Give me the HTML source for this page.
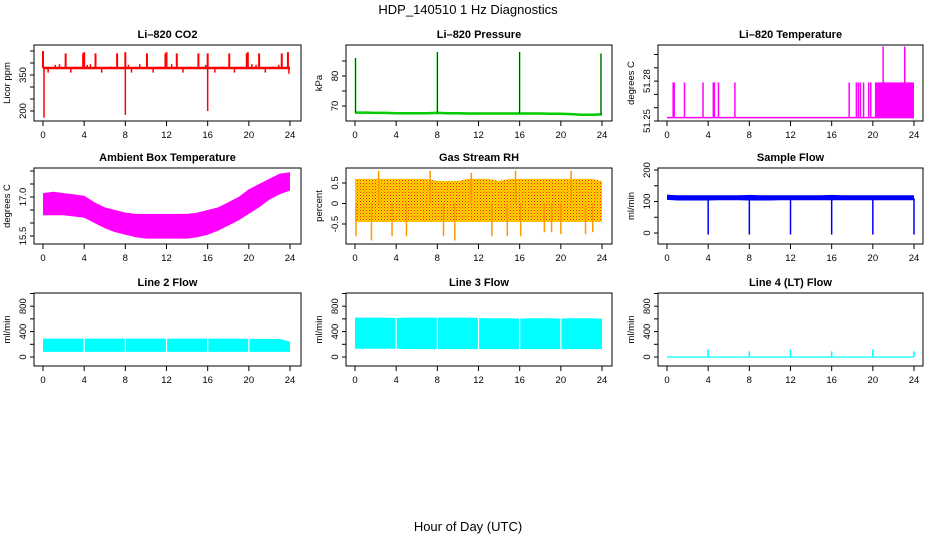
<!DOCTYPE html>
<html><head><meta charset="utf-8"><style>
body{margin:0;background:#fff;}
svg{display:block;font-family:"Liberation Sans",sans-serif;}
</style></head><body>
<svg id="c" width="936" height="540" viewBox="0 0 936 540">
<defs>
<pattern id="rhp" width="3" height="3" patternUnits="userSpaceOnUse"><rect width="3" height="3" fill="#ffd700"/><rect width="1" height="1" fill="#ff2000"/><rect x="1.5" y="1.5" width="1" height="1" fill="#ff6000"/></pattern>
</defs>
<text x="468" y="14" font-size="13" text-anchor="middle">HDP_140510  1 Hz Diagnostics</text>
<text x="468" y="531" font-size="13" text-anchor="middle">Hour of Day (UTC)</text>
</svg>
<script>
// ---- data arrays ----
const hours = [0,1,2,3,4,5,6,7,8,9,10,11,12,13,14,15,16,17,18,19,20,21,22,23,24];
const xTicks = [0,4,8,12,16,20,24];
// CO2
const co2Base = 379;
const co2UpHours = [0.0,2.2,3.9,4.0,5.1,7.2,8.0,10.1,11.9,12.0,13.0,15.1,16.0,18.1,19.8,19.9,21.0,23.2,23.8];
const co2UpVals  = [450,440,440,445,440,440,445,440,440,445,440,440,440,440,440,445,440,440,445];
const co2SmallHours = [0.5,1.2,1.6,2.7,3.3,4.3,4.6,5.7,6.6,8.3,8.6,9.4,10.7,11.4,12.5,13.6,14.3,15.8,16.7,17.5,18.6,19.3,20.3,20.7,21.6,22.4,22.9];
const co2SmallVals  = [360,392,395,360,385,392,395,360,385,392,360,395,360,385,395,360,385,392,360,385,360,385,395,392,360,385,392];
const co2DownHours = [0.1,8.0,16.0,23.9];
const co2DownVals  = [172,184,200,355];
// Pressure
const presBase = [67.8,67.8,67.7,67.7,67.6,67.6,67.6,67.6,67.7,67.6,67.6,67.5,67.5,67.5,67.5,67.5,67.5,67.5,67.5,67.4,67.4,67.3,67.1,67.1,67.2];
const presSpikeHours = [0.05,8.0,16.0,23.9];
const presSpikeVals  = [86,88,88,87.5];
// Li-820 temperature
const tempBase = 51.2525;
const tempSpikeHours = [0.6,0.7,1.7,3.5,4.5,4.6,5.0,6.6,17.7,18.4,18.6,18.8,19.1,19.6,19.8,20.3,20.6,21.0,21.5,22.0,22.5,23.1,23.6];
const tempSpikeVals  = [51.279,51.279,51.279,51.279,51.279,51.279,51.279,51.279,51.279,51.279,51.279,51.279,51.279,51.279,51.279,51.279,51.279,51.306,51.279,51.279,51.279,51.306,51.279];
// Ambient box temperature band
const ambLow  = [16.3,16.3,16.3,16.25,16.2,16.0,15.8,15.65,15.55,15.45,15.4,15.4,15.4,15.4,15.4,15.45,15.55,15.7,15.9,16.1,16.35,16.6,16.9,17.1,17.25];
const ambHigh = [17.15,17.2,17.15,17.1,17.05,16.8,16.6,16.5,16.4,16.35,16.35,16.35,16.35,16.35,16.35,16.4,16.5,16.6,16.8,17.0,17.3,17.5,17.7,17.9,17.95];
// RH band
const rhLow  = [-0.45,-0.45,-0.45,-0.45,-0.45,-0.45,-0.45,-0.45,-0.45,-0.45,-0.45,-0.45,-0.45,-0.45,-0.45,-0.45,-0.45,-0.45,-0.45,-0.45,-0.45,-0.45,-0.45,-0.45,-0.45];
const rhHigh = [0.6,0.6,0.6,0.6,0.6,0.6,0.6,0.6,0.55,0.55,0.55,0.6,0.6,0.6,0.55,0.6,0.6,0.6,0.6,0.6,0.6,0.6,0.6,0.6,0.55];
const rhSpikeHours = [0.1,1.6,2.3,3.6,5.0,7.3,8.6,9.7,11.3,13.3,14.8,15.6,16.1,18.4,19.1,20.0,21.0,22.4,23.1];
const rhSpikeVals  = [-0.8,-0.9,0.8,-0.8,-0.8,0.8,-0.8,-0.9,0.75,-0.8,-0.8,0.8,-0.8,-0.7,-0.7,-0.75,0.8,-0.75,-0.7];
// Sample flow band
const sfLow  = [105,103,103,103,103,104,104,104,103,103,103,104,104,104,104,104,104,104,104,104,104,104,104,104,104];
const sfHigh = [122,120,120,120,120,120,120,120,121,120,120,120,120,120,120,120,121,120,120,120,120,120,120,120,120];
const sfDropHours = [4.0,8.0,12.0,16.0,20.0,24.0];
const sfDropVals  = [-5,-5,-5,-5,-5,-5];
// Line 2 / 3 flow bands
const l2Low  = [80,80,80,80,80,80,80,80,80,80,80,80,80,80,80,80,80,80,80,80,80,80,80,80,80];
const l2High = [290,290,290,290,290,290,290,290,290,290,290,290,290,290,290,290,290,290,290,290,285,285,285,285,240];
const l3Low  = [130,130,130,130,130,125,125,125,125,125,125,125,125,125,125,125,125,125,125,125,125,125,125,125,125];
const l3High = [620,620,620,620,615,620,620,620,620,620,620,620,615,610,610,610,605,610,610,610,605,610,610,610,600];
const flowGapHours = [4,8,12,16,20];
const l4SpikeHours = [4.0,8.0,12.0,16.0,20.0,24.0];
const l4SpikeVals  = [120,90,120,90,120,90];

const NS="http://www.w3.org/2000/svg";
const svg=document.getElementById('c');
function el(tag,attrs,parent){const e=document.createElementNS(NS,tag);for(const k in attrs)e.setAttribute(k,attrs[k]);(parent||svg).appendChild(e);return e;}

const cols=[{bx0:34,bx1:301,x0:43,x24:290},{bx0:346,bx1:612,x0:355,x24:602},{bx0:658,bx1:923,x0:667,x24:914}];
const rows=[{by0:45,by1:121},{by0:168,by1:244},{by0:293,by1:366}];

function panel(name,title,ci,ri,ylab,ticks,labels,yOf){
  const c=cols[ci],r=rows[ri];
  const g=el('g',{});
  
  
  const xs=h=>c.x0+(c.x24-c.x0)*h/24;
  const t=el('text',{x:(c.bx0+c.bx1)/2,y:r.by0-7,'font-size':11,'font-weight':'bold','text-anchor':'middle'},g);
  t.textContent=title;
  
  
  const bx=el('rect',{x:c.bx0,y:r.by0,width:c.bx1-c.bx0,height:r.by1-r.by0,fill:'none',stroke:'#000','stroke-width':1},g);
  
  
  const yl=el('text',{transform:`translate(${c.bx0-24},${(r.by0+r.by1)/2}) rotate(-90)`,'font-size':9.5,'text-anchor':'middle'},g);
  yl.textContent=ylab;
  
  
  ticks.forEach(v=>{const y=yOf(v);el('line',{x1:c.bx0-4,x2:c.bx0,y1:y,y2:y,stroke:'#000'},g);});
  labels.forEach(v=>{const y=yOf(parseFloat(v));const tx=el('text',{transform:`translate(${c.bx0-8},${y}) rotate(-90)`,'font-size':9.5,'text-anchor':'middle'},g);tx.textContent=String(v);
    
    });
  xTicks.forEach(h=>{const x=xs(h);el('line',{x1:x,x2:x,y1:r.by1,y2:r.by1+5,stroke:'#000'},g);
    const tx=el('text',{x:x,y:r.by1+17,'font-size':9.5,'text-anchor':'middle'},g);tx.textContent=h;
    
    });
  return {g,xs,yOf};
}
function band(p,lo,hi,fill,name){
  let d='M'+hours.map((h,i)=>p.xs(h)+','+p.yOf(hi[i])).join('L');
  for(let i=hours.length-1;i>=0;i--)d+='L'+p.xs(hours[i])+','+p.yOf(lo[i]);
  const e=el('path',{d:d+'Z',fill:fill},p.g);
  
  
}
function vlines(p,hs,from,vals,color,w,name){
  hs.forEach((h,i)=>{const fv=Array.isArray(from)?from[i]:from;
    const e=el('line',{x1:p.xs(h),x2:p.xs(h),y1:p.yOf(fv),y2:p.yOf(vals[i]),stroke:color,'stroke-width':w},p.g);
    
    });
}

// CO2
let p=panel('co2','Li\u2013820 CO2',0,0,'Licor ppm',[200,250,300,350,400,450],['200','350'],v=>111-(v-200)*12/50);
vlines(p,co2SmallHours,co2Base,co2SmallVals,'#f00',1.5,'co2-small-spike');
vlines(p,co2UpHours,co2Base,co2UpVals,'#f00',2,'co2-spike');
vlines(p,co2DownHours,co2Base,co2DownVals,'#f00',1.5,'co2-dip');
{const e=el('line',{x1:p.xs(0),x2:p.xs(24),y1:p.yOf(co2Base),y2:p.yOf(co2Base),stroke:'#f00','stroke-width':2.5},p.g);
}

// Pressure
p=panel('pressure','Li\u2013820 Pressure',1,0,'kPa',[70,75,80,85],['70','80'],v=>106-(v-70)*3);
{const e=el('polyline',{points:hours.map((h,i)=>p.xs(h)+','+p.yOf(presBase[i])).join(' '),fill:'none',stroke:'#0c0','stroke-width':2.5},p.g);
}
vlines(p,presSpikeHours,presSpikeHours.map(h=>presBase[Math.round(h)]),presSpikeVals,'#0c0',1.5,'pressure-spike');
vlines(p,presSpikeHours,presSpikeHours.map(h=>presBase[Math.round(h)]),presSpikeVals,'#000',0.6,'pressure-spike-dots');

// Li-820 Temperature
p=panel('li820-temp','Li\u2013820 Temperature',2,0,'degrees C',[51.25,51.26,51.27,51.28,51.29,51.3],['51.25','51.28'],v=>121-(v-51.25)*1330);
{const e=el('line',{x1:p.xs(0),x2:p.xs(24),y1:p.yOf(tempBase),y2:p.yOf(tempBase),stroke:'#f0f','stroke-width':1.5},p.g);
}
vlines(p,tempSpikeHours,tempBase,tempSpikeVals,'#f0f',1.5,'li820-temp-spike');
{const e=el('rect',{x:p.xs(20.2),y:p.yOf(51.279),width:p.xs(24)-p.xs(20.2),height:p.yOf(tempBase)-p.yOf(51.279),fill:'#f0f'},p.g);
}

// Ambient
p=panel('ambient-temp','Ambient Box Temperature',0,1,'degrees C',[15.5,16,16.5,17,17.5,18],['15.5','17.0'],v=>236-(v-15.5)*26);
band(p,ambLow,ambHigh,'#f0f','ambient-temp-band');

// RH
p=panel('gas-rh','Gas Stream RH',1,1,'percent',[-0.5,0,0.5],['-0.5','0','0.5'],v=>203.5-v*41);
band(p,rhLow,rhHigh,'url(#rhp)','gas-rh-band');
vlines(p,rhSpikeHours,0,rhSpikeVals,'#f90',1.5,'gas-rh-spike');

// Sample flow
p=panel('sample-flow','Sample Flow',2,1,'ml/min',[0,50,100,150,200],['0','100','200'],v=>233-v*0.315);
band(p,sfLow,sfHigh,'#00f','sample-flow-band');
vlines(p,sfDropHours,sfDropHours.map(()=>110),sfDropVals,'#00f',1.5,'sample-flow-drop');

const fy=v=>357-v*0.0635;
// Line 2
p=panel('line2-flow','Line 2 Flow',0,2,'ml/min',[0,200,400,600,800,1000],['0','400','800'],fy);
band(p,l2Low,l2High,'#0ff','line2-flow-band');
vlines(p,flowGapHours,40,flowGapHours.map(()=>320),'#fff',1.2,'line2-flow-gap');
// Line 3
p=panel('line3-flow','Line 3 Flow',1,2,'ml/min',[0,200,400,600,800,1000],['0','400','800'],fy);
band(p,l3Low,l3High,'#0ff','line3-flow-band');
vlines(p,flowGapHours,100,flowGapHours.map(()=>650),'#fff',1.2,'line3-flow-gap');
// Line 4
p=panel('line4-flow','Line 4 (LT) Flow',2,2,'ml/min',[0,200,400,600,800,1000],['0','400','800'],fy);
{const e=el('line',{x1:p.xs(0),x2:p.xs(24),y1:fy(0),y2:fy(0),stroke:'#0ff','stroke-width':1.2},p.g);
}
vlines(p,l4SpikeHours,0,l4SpikeVals,'#0ff',1.5,'line4-flow-spike');
</script>
</body></html>
